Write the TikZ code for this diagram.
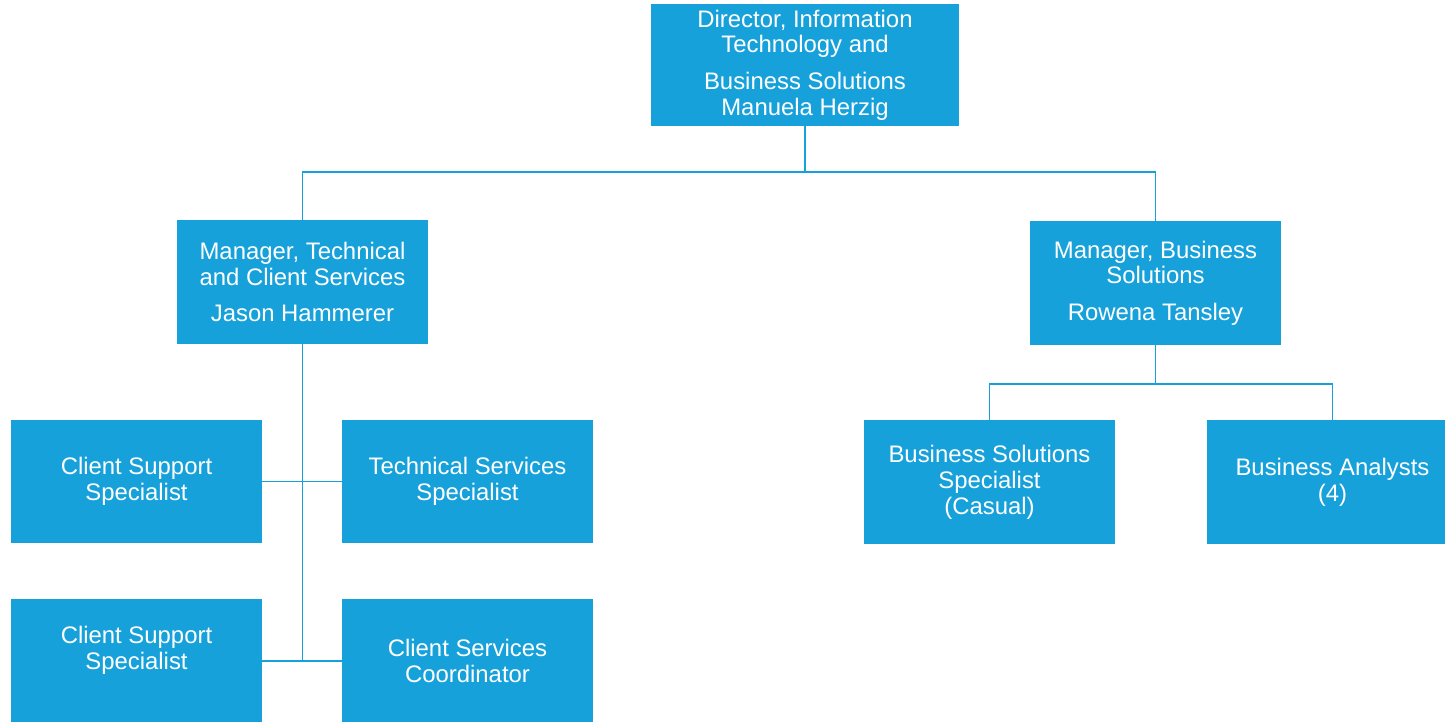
\documentclass[tikz,border=0pt]{standalone}
\usepackage{fontspec}
\setmainfont{Liberation Sans}
\usepackage{xcolor}
\usepackage{tikz}
\definecolor{orgblue}{HTML}{17A1DB}

\tikzset{
	orgbox/.style={fill=orgblue, text=white, align=center, inner sep=0pt,
		minimum width=5.02cm, minimum height=2.48cm,
		font=\fontsize{13.6}{14.7}\selectfont},
	link/.style={draw=orgblue, line width=0.8pt}
}

\begin{document}
\begin{tikzpicture}[x=0.02cm, y=-0.02cm]
		\clip (0,0) rectangle (1445,722);
		\fill[white] (0,0) rectangle (1445,722);
		% boxes
		\node[orgbox, minimum width=6.16cm, minimum height=2.44cm] (dir) at (805,65)
			{Director, Information\\Technology and\\[6pt]Business Solutions\\Manuela Herzig};
		\node[orgbox] (mgrTC) at (302.5,282) {Manager, Technical\\and Client Services\\[6pt]Jason Hammerer};
		\node[orgbox] (mgrBS) at (1155.5,283) {Manager, Business\\Solutions\\[6pt]Rowena Tansley};
		\node[orgbox] (cssA) at (136.5,481.5) {Client Support\\Specialist};
		\node[orgbox] (tss) at (467.5,481.5) {Technical Services\\Specialist};
		\node[orgbox] (cssB) at (136.5,661) {Client Support\\Specialist\\\mbox{}};
		\node[orgbox] (csc) at (467.5,661) {Client Services\\Coordinator};
		\node[orgbox] (bss) at (989.5,482) {Business Solutions\\Specialist\\(Casual)};
		\node[orgbox] (ba) at (1332.5,482) {Business Analysts\\(4)};
		% junctions
		\coordinate (top) at (805,172);
		\coordinate (split) at (1155.5,384);
		\coordinate (tcEnd) at (302.5,661);
		% connectors
		\draw[link] (dir.south) -- (top);
		\draw[link] (mgrTC.north) |- (top) -| (mgrBS.north);
		\draw[link] (mgrTC.south) -- (tcEnd);
		\draw[link] (cssA.east) -- (tss.west);
		\draw[link] (cssB.east) -- (csc.west);
		\draw[link] (mgrBS.south) -- (split);
		\draw[link] (bss.north) |- (split) -| (ba.north);
	\end{tikzpicture}
\end{document}
